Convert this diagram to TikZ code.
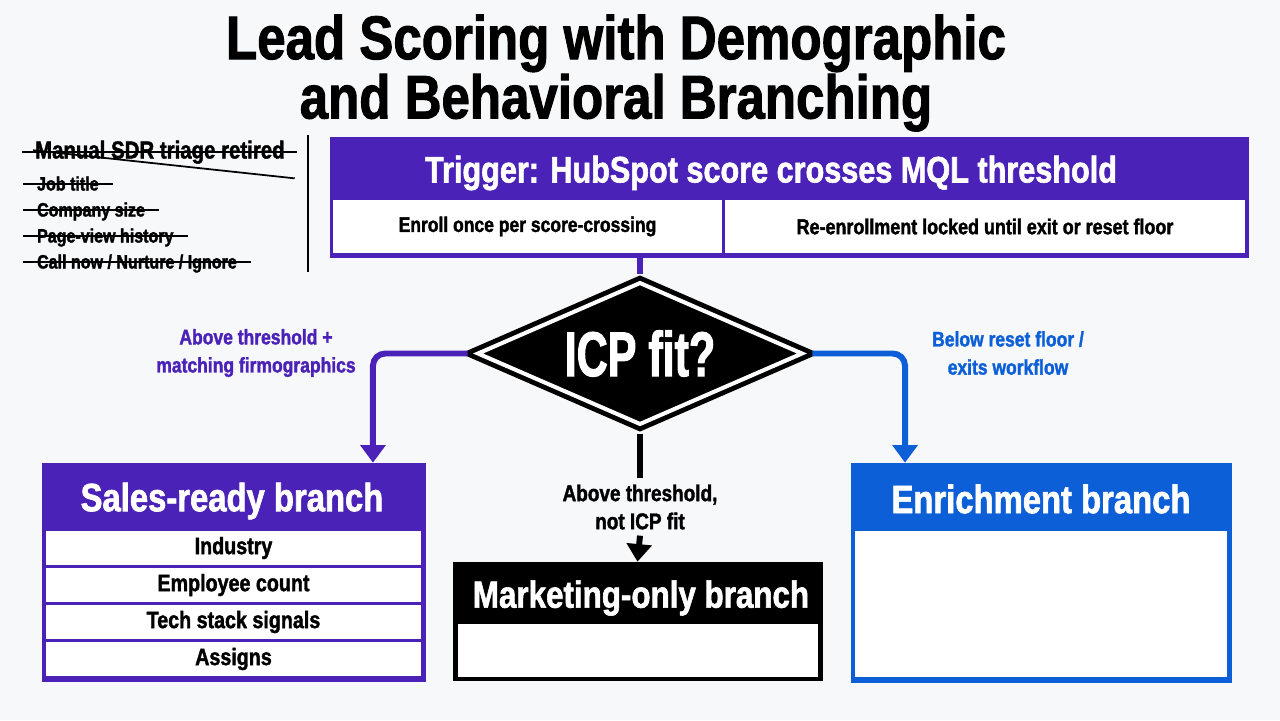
\documentclass[tikz,border=0pt]{standalone}
\usepackage{fontspec}
\setmainfont{Liberation Sans}[FakeStretch=0.83,BoldFeatures={FakeBold=1.6}]
\newfontfamily\narrowfont{Liberation Sans}[FakeStretch=0.68,BoldFeatures={FakeBold=1.6}]
\usetikzlibrary{arrows.meta,shapes.geometric}
\definecolor{leadpurple}{HTML}{4B22B8}
\definecolor{leadblue}{HTML}{0D5FD8}
\definecolor{paper}{HTML}{F7F8FA}
\begin{document}
\begin{tikzpicture}[x=0.02cm, y=-0.02cm, font=\bfseries,
    >={Triangle[length=10pt,width=14pt]},
    flow/.style={line width=3.4pt, rounded corners=7pt},
    frame/.style={fill=#1, draw=#1, inner sep=0pt},
    cell/.style={fill=white, inner sep=0pt, text=black},
    retired/.style={anchor=west, inner sep=1pt, text height=1.4ex, text depth=0pt}]
\fill[paper] (0,0) rectangle (1280,720);

\node (title) at (616,73) [align=center, font=\fontsize{35}{31}\bfseries] {Lead Scoring with Demographic\\and Behavioral Branching};

% retired manual triage
\node (old0) at (33,152) [retired, font=\fontsize{14}{14}\bfseries] {Manual SDR triage retired};
\draw[line width=1pt] ([xshift=-6pt]old0.west) -- ([xshift=6pt]old0.east);
\draw[line width=1pt] ([yshift=1pt]old0.west) -- ([xshift=4.5pt,yshift=-15pt]old0.east);
\foreach \t [count=\i] in {Job title, Company size, Page-view history, Call now / Nurture / Ignore}
{
    \node (old\i) at (35,{158+26*\i}) [retired, font=\fontsize{11}{12}\bfseries] {\t};
    \draw[line width=0.9pt] ([xshift=-7pt]old\i.west) -- ([xshift=7pt]old\i.east);
}
\draw[line width=1.3pt] (308,135) -- (308,272);

% trigger
\node (trigger) at (789,197) [frame=leadpurple, minimum width=18.36cm, minimum height=2.4cm] {};
\node (triggertext) at (771,173) [text=white, font=\fontsize{21}{24}\bfseries] {Trigger: HubSpot score crosses MQL threshold};
\node (enroll) at (527.5,226.5) [cell, minimum width=7.78cm, minimum height=1.06cm, font=\fontsize{12}{14}\bfseries] {Enroll once per score-crossing};
\node (relock) at (985,226.5) [cell, minimum width=10.4cm, minimum height=1.06cm, font=\fontsize{12.3}{14}\bfseries] {Re-enrollment locked until exit or reset floor};

% decision
\node (icp) at (640,353.5) [diamond, aspect=2.17, minimum width=6.52cm, minimum height=2.86cm, inner sep=0pt,
    fill=black, draw=black, double=white, double distance=2.3pt, line width=2.8pt,
    text=white, font=\narrowfont\fontsize{36}{36}\bfseries] {ICP fit?};

% branches
\node (sales) at (233.5,572) [frame=leadpurple, minimum width=7.66cm, minimum height=4.36cm] {};
\node (salestitle) at (232,501) [text=white, font=\fontsize{22.5}{26}\bfseries] {Sales-ready branch};
\foreach \t [count=\i from 0] in {Industry, Employee count, Tech stack signals, Assigns}
    \node (salesrow\i) at (233.5,{548+37*\i}) [cell, minimum width=7.5cm, minimum height=0.68cm, font=\fontsize{13.5}{15}\bfseries] {\t};

\node (market) at (637.5,621) [frame=black, minimum width=7.38cm, minimum height=2.36cm] {};
\node (markettitle) at (641,598) [text=white, font=\fontsize{21.5}{25}\bfseries] {Marketing-only branch};
\node (marketbody) at (638,650.5) [cell, minimum width=7.2cm, minimum height=1.06cm] {};

\node (enrich) at (1041,572.5) [frame=leadblue, minimum width=7.6cm, minimum height=4.38cm] {};
\node (enrichtitle) at (1041,499) [text=white, font=\fontsize{22.5}{26}\bfseries] {Enrichment branch};
\node (enrichbody) at (1041,604) [cell, minimum width=7.44cm, minimum height=2.92cm] {};

% labels
\node (fitlabel) at (256,353) [align=center, text=leadpurple, font=\fontsize{12}{16}\bfseries] {Above threshold +\\matching firmographics};
\node (floorlabel) at (1008,353) [align=center, text=leadblue, font=\fontsize{12}{16}\bfseries] {Below reset floor /\\exits workflow};
\node (mktlabel) at (640,507) [align=center, font=\fontsize{13}{16}\bfseries] {Above threshold,\\not ICP fit};

% connectors
\draw[flow, leadpurple, shorten >=3pt] (trigger.south -| icp.north) -- (icp.north);
\draw[flow, leadpurple, ->, shorten <=4pt] (icp.west) -| ([xshift=2.79cm]sales.north);
\draw[flow, leadblue, ->, shorten <=4pt] (icp.east) -| ([xshift=-2.72cm]enrich.north);
\draw[flow, shorten <=4pt] (icp.south) -- (mktlabel.north);
\draw[flow, ->] (mktlabel.south) -- (market.north);
\end{tikzpicture}
\end{document}
